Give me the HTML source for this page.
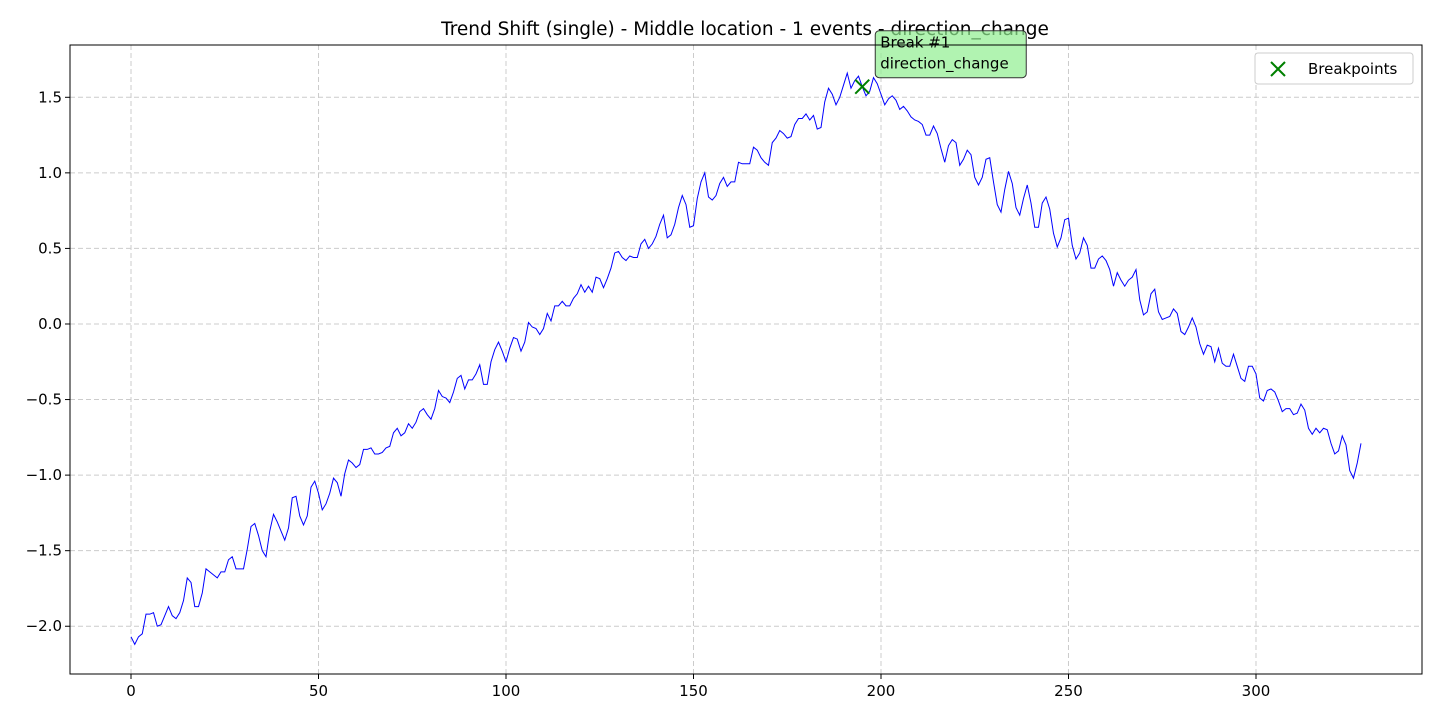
<!DOCTYPE html>
<html><head><meta charset="utf-8"><style>
body{margin:0;background:#fff;font-family:"Liberation Sans","DejaVu Sans",sans-serif}
svg{display:block}
text{font-family:"DejaVu Sans","Liberation Sans",sans-serif}
</style></head><body>
<svg id="chart" width="1440" height="720" xmlns="http://www.w3.org/2000/svg"></svg>
<script>
const xTicks=[0,50,100,150,200,250,300];
const yTicks=[-2.0,-1.5,-1.0,-0.5,0.0,0.5,1.0,1.5];
const yTickLabels=["\u22122.0","\u22121.5","\u22121.0","\u22120.5","0.0","0.5","1.0","1.5"];
const seriesY=[-2.07,-2.12,-2.07,-2.05,-1.92,-1.92,-1.91,-2.0,-1.99,-1.93,-1.87,-1.93,-1.95,-1.91,-1.83,-1.68,-1.71,-1.87,-1.87,-1.78,-1.62,-1.64,-1.66,-1.68,-1.64,-1.64,-1.56,-1.54,-1.62,-1.62,-1.62,-1.49,-1.34,-1.32,-1.40,-1.50,-1.54,-1.37,-1.26,-1.31,-1.37,-1.43,-1.35,-1.15,-1.14,-1.27,-1.33,-1.27,-1.08,-1.04,-1.12,-1.23,-1.19,-1.12,-1.02,-1.05,-1.14,-0.99,-0.90,-0.92,-0.95,-0.93,-0.83,-0.83,-0.82,-0.86,-0.86,-0.85,-0.82,-0.81,-0.72,-0.69,-0.74,-0.72,-0.66,-0.69,-0.65,-0.58,-0.56,-0.60,-0.63,-0.56,-0.44,-0.48,-0.49,-0.52,-0.45,-0.36,-0.34,-0.43,-0.37,-0.37,-0.33,-0.27,-0.40,-0.40,-0.25,-0.17,-0.12,-0.18,-0.25,-0.16,-0.09,-0.10,-0.18,-0.12,0.01,-0.02,-0.03,-0.07,-0.03,0.07,0.02,0.12,0.12,0.15,0.12,0.12,0.17,0.20,0.26,0.21,0.25,0.21,0.31,0.30,0.24,0.30,0.37,0.47,0.48,0.44,0.42,0.45,0.44,0.44,0.53,0.56,0.50,0.53,0.58,0.66,0.72,0.57,0.59,0.66,0.77,0.85,0.79,0.64,0.65,0.83,0.94,1.00,0.84,0.82,0.85,0.93,0.97,0.91,0.94,0.94,1.07,1.06,1.06,1.06,1.17,1.15,1.10,1.07,1.05,1.20,1.23,1.28,1.26,1.23,1.24,1.32,1.36,1.36,1.39,1.35,1.38,1.29,1.30,1.47,1.56,1.52,1.45,1.50,1.58,1.66,1.56,1.61,1.64,1.57,1.51,1.54,1.63,1.59,1.52,1.45,1.49,1.51,1.48,1.42,1.44,1.41,1.37,1.35,1.34,1.32,1.25,1.25,1.31,1.26,1.16,1.07,1.18,1.22,1.20,1.05,1.09,1.15,1.12,0.97,0.92,0.97,1.09,1.10,0.94,0.79,0.74,0.89,1.01,0.93,0.77,0.72,0.83,0.92,0.80,0.64,0.64,0.80,0.84,0.76,0.60,0.51,0.57,0.69,0.70,0.52,0.43,0.47,0.57,0.52,0.37,0.37,0.43,0.45,0.42,0.36,0.25,0.34,0.29,0.25,0.29,0.31,0.36,0.16,0.06,0.08,0.20,0.23,0.08,0.03,0.04,0.05,0.10,0.07,-0.05,-0.07,-0.02,0.04,-0.02,-0.13,-0.20,-0.14,-0.15,-0.25,-0.16,-0.26,-0.28,-0.28,-0.20,-0.28,-0.36,-0.38,-0.28,-0.28,-0.33,-0.49,-0.51,-0.44,-0.43,-0.45,-0.51,-0.58,-0.56,-0.56,-0.60,-0.59,-0.53,-0.57,-0.69,-0.73,-0.69,-0.72,-0.69,-0.70,-0.79,-0.86,-0.84,-0.74,-0.80,-0.97,-1.02,-0.92,-0.79];
const breakX=[195];
const breakY=[1.57];
const breakLabels=["Break #1","direction_change"];

const L=70,R=1422,T=45,B=674;
const xMin=-16.27,xMax=344.27,yMin=-2.316,yMax=1.846;
const sx=v=>L+(v-xMin)/(xMax-xMin)*(R-L);
const sy=v=>B-(v-yMin)/(yMax-yMin)*(B-T);
const svg=document.getElementById('chart');
const NS='http://www.w3.org/2000/svg';
function mk(tag,attrs,parent){const e=document.createElementNS(NS,tag);for(const k in attrs)e.setAttribute(k,attrs[k]);(parent||svg).appendChild(e);return e;}

const title=mk('text',{x:745,y:35,'text-anchor':'middle','font-size':18.5,fill:'#000'});


title.textContent='Trend Shift (single) - Middle location - 1 events - direction_change';

const grid=mk('g',{});


xTicks.forEach(t=>{const l=mk('line',{x1:sx(t),x2:sx(t),y1:T,y2:B,stroke:'#ccc','stroke-dasharray':'5,3','stroke-width':1},grid);});
yTicks.forEach(t=>{const l=mk('line',{x1:L,x2:R,y1:sy(t),y2:sy(t),stroke:'#ccc','stroke-dasharray':'5,3','stroke-width':1},grid);});

const xa=mk('g',{});


xTicks.forEach(t=>{mk('line',{x1:sx(t),x2:sx(t),y1:B,y2:B+5,stroke:'#000'},xa);const tx=mk('text',{x:sx(t),y:B+22,'text-anchor':'middle','font-size':15},xa);tx.textContent=t;});
const ya=mk('g',{});


yTicks.forEach((t,i)=>{mk('line',{x1:L-5,x2:L,y1:sy(t),y2:sy(t),stroke:'#000'},ya);const tx=mk('text',{x:L-8,y:sy(t)+5,'text-anchor':'end','font-size':15},ya);tx.textContent=yTickLabels[i];});

const line=mk('polyline',{points:seriesY.map((v,i)=>sx(i)+','+sy(v)).join(' '),fill:'none',stroke:'#0000ff','stroke-width':1});



breakX.forEach((bx,i)=>{const g=mk('g',{});
const cx=sx(bx),cy=sy(breakY[i]);
mk('line',{x1:cx-7,y1:cy-7,x2:cx+7,y2:cy+7,stroke:'#008000','stroke-width':2},g);
mk('line',{x1:cx-7,y1:cy+7,x2:cx+7,y2:cy-7,stroke:'#008000','stroke-width':2},g);
const ann=mk('g',{});
mk('rect',{x:cx+13,y:cy-56,width:151,height:47,rx:4,fill:'#90ee90','fill-opacity':0.7,stroke:'#333','stroke-width':1},ann);
const t1=mk('text',{x:cx+18,y:cy-39,'font-size':15},ann);t1.textContent=breakLabels[0];
const t2=mk('text',{x:cx+18,y:cy-18,'font-size':15},ann);t2.textContent=breakLabels[1];
});

const frame=mk('rect',{x:L,y:T,width:R-L,height:B-T,fill:'none',stroke:'#000','stroke-width':1});



const lg=mk('g',{});


mk('rect',{x:1255,y:53,width:158,height:31,rx:3,fill:'#fff',stroke:'#ccc'},lg);
mk('line',{x1:1271,y1:62,x2:1285,y2:76,stroke:'#008000','stroke-width':2},lg);
mk('line',{x1:1271,y1:76,x2:1285,y2:62,stroke:'#008000','stroke-width':2},lg);
const lt=mk('text',{x:1308,y:74,'font-size':15},lg);


lt.textContent='Breakpoints';
</script>
</body></html>
